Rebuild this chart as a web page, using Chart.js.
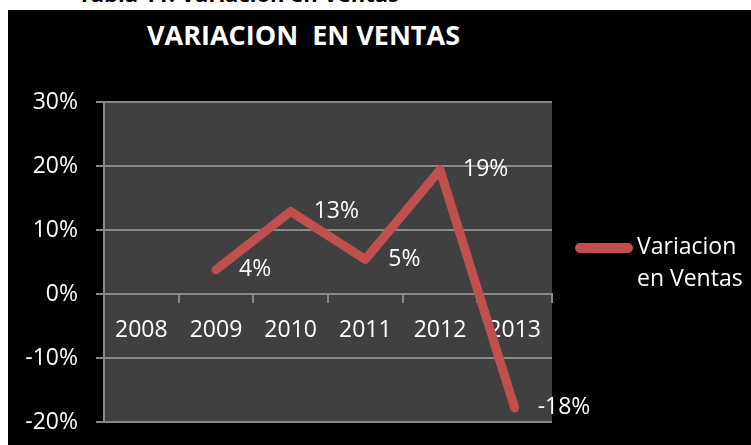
<!DOCTYPE html>
<html>
<head>
<meta charset="utf-8">
<script src="https://cdn.jsdelivr.net/npm/chart.js@4/dist/chart.umd.min.js"></script>
<style>
  html, body { margin: 0; padding: 0; background: #fff; }
  #wrap { position: relative; width: 751px; height: 445px; overflow: hidden; }
  #box { position: absolute; left: 8px; top: 10px; right: 0; bottom: 0; background: #000; }
  #caption { position: absolute; left: 78px; top: -17px; font: bold 22px "Open Sans", sans-serif; line-height: 21px; color: #000; white-space: nowrap; }
  #title { position: absolute; left: 138px; top: 16px; width: 331px; text-align: center; font: bold 27px "Open Sans", sans-serif; color: #fff; white-space: pre; }
  canvas { position: absolute; left: 0; top: 0; }
</style>
</head>
<body>
<div id="wrap">
  <div id="box"></div>
  <div id="caption">Tabla 11: Variacion en Ventas</div>
  <div id="title">VARIACION  EN VENTAS</div>
  <canvas id="chart" width="751" height="445"></canvas>
</div>
<script>
const years = ['2008', '2009', '2010', '2011', '2012', '2013'];
const variacion = [null, 3.8, 12.9, 5.4, 19.4, -17.8];
const seriesName = ['Variacion', 'en Ventas'];

const red = '#C0504D';
const gridGray = '#888888';
const fontFamily = '"Open Sans", sans-serif';

// gray plot background
const plotBg = {
    id: 'plotBg',
    beforeDraw(chart) {
        const { ctx, chartArea: a } = chart;
        ctx.save();
        ctx.fillStyle = '#404040';
        ctx.fillRect(a.left, a.top, a.right - a.left, a.bottom - a.top);
        ctx.restore();
    }
};

// value labels to the right of each point
const valueLabels = {
    id: 'valueLabels',
    afterDatasetsDraw(chart) {
        const ctx = chart.ctx;
        const meta = chart.getDatasetMeta(0);
        const data = chart.data.datasets[0].data;
        ctx.save();
        ctx.fillStyle = '#fff';
        ctx.font = '23px ' + fontFamily;
        ctx.textAlign = 'left';
        ctx.textBaseline = 'middle';
        meta.data.forEach((pt, i) => {
            if (data[i] === null) return;
            ctx.fillText(Math.round(data[i]) + '%', pt.x + 23, pt.y);
        });
        ctx.restore();
    }
};

// two-line legend on the right
const sideLegend = {
    id: 'sideLegend',
    afterDraw(chart) {
        const ctx = chart.ctx;
        const ds = chart.data.datasets[0];
        ctx.save();
        ctx.strokeStyle = ds.borderColor;
        ctx.lineWidth = 10;
        ctx.lineCap = 'round';
        ctx.beginPath();
        ctx.moveTo(580, 248);
        ctx.lineTo(628, 248);
        ctx.stroke();
        ctx.fillStyle = '#fff';
        ctx.font = '23px ' + fontFamily;
        ctx.textBaseline = 'middle';
        ds.label.forEach((line, i) => ctx.fillText(line, 637, 247 + i * 32));
        ctx.restore();
    }
};

new Chart(document.getElementById('chart'), {
    type: 'line',
    data: {
        labels: years,
        datasets: [{
            label: seriesName,
            data: variacion,
            borderColor: red,
            borderWidth: 9,
            borderJoinStyle: 'round',
            borderCapStyle: 'round',
            pointRadius: 0,
            tension: 0
        }]
    },
    options: {
        responsive: false,
        animation: false,
        layout: { padding: { left: 0, top: 102, right: 199, bottom: 23 } },
        plugins: {
            legend: { display: false },
            title: { display: false },
            tooltip: { enabled: false }
        },
        scales: {
            x: {
                position: { y: 0 },
                offset: true,
                afterFit(scale) { scale.height = 0; },
                grid: { offset: true, drawOnChartArea: false, drawTicks: true, tickLength: 8, color: gridGray, lineWidth: 2 },
                border: { display: true, color: gridGray, width: 2 },
                ticks: { color: '#fff', font: { family: fontFamily, size: 23 }, padding: 15, maxRotation: 0 }
            },
            y: {
                min: -20,
                max: 30,
                afterFit(scale) {
                    scale.width = 104;
                    scale.paddingTop = 0;
                    scale.paddingBottom = 0;
                },
                grid: { color: gridGray, lineWidth: 2, tickLength: 8 },
                border: { color: gridGray, width: 2 },
                ticks: {
                    stepSize: 10,
                    color: '#fff',
                    padding: 18,
                    font: { family: fontFamily, size: 23 },
                    callback: v => v + '%'
                }
            }
        }
    },
    plugins: [plotBg, valueLabels, sideLegend]
});
</script>
</body>
</html>
